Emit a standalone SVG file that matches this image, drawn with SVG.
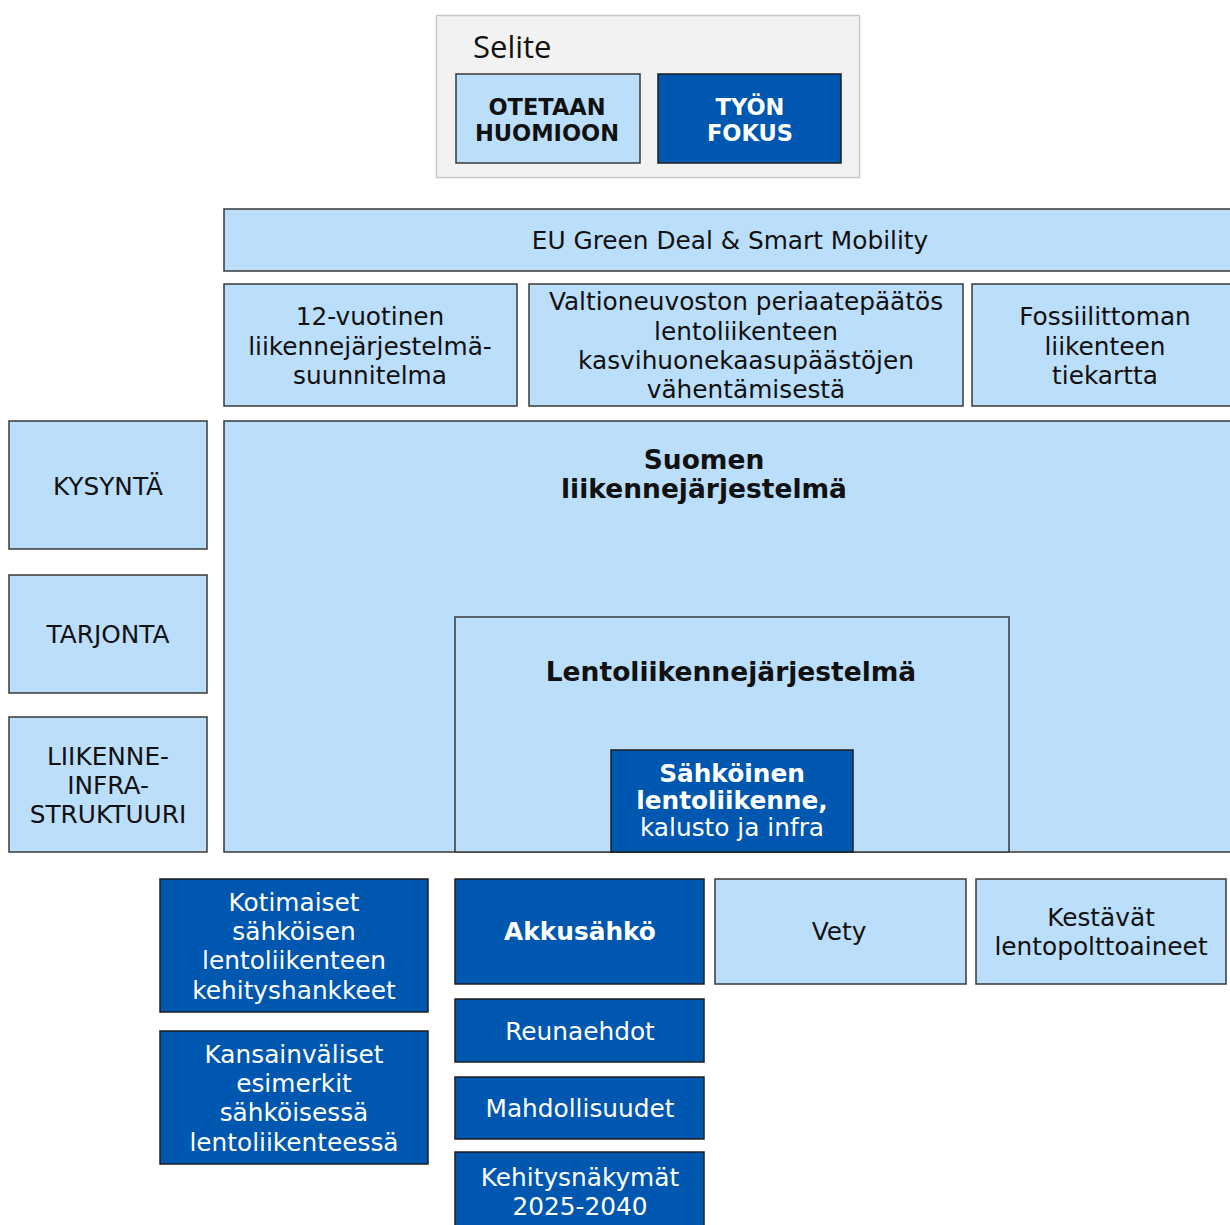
<svg xmlns="http://www.w3.org/2000/svg" width="1230" height="1225" viewBox="0 0 1230 1225">
  <style>
    .lt { fill: #bbdefb; stroke: #3a3a3a; stroke-width: 1.5; }
    .dk { fill: #0057b0; stroke: #1e1e1e; stroke-width: 1.5; }
    text { font-family: "DejaVu Sans", Verdana, sans-serif; font-size: 24.8px; text-anchor: middle; }
    .tb { fill: #111; }
    .tw { fill: #fff; }
    .b { font-weight: bold; }
    .big { font-size: 26.5px; }
    .leg { font-weight: bold; font-size: 22.5px; }
  </style>
  <rect width="1230" height="1225" fill="#ffffff"/>

  <!-- legend -->
  <g id="legend">
    <rect x="436.5" y="15.5" width="423" height="162" fill="#f2f2f2" stroke="#c8c8c8" stroke-width="1.5"/>
    <text x="473" y="58" style="font-family:'Open Sans','Noto Sans',sans-serif;font-size:31px;text-anchor:start" class="tb">Selite</text>
    <g id="legend-consider">
      <rect class="lt" x="456" y="74" width="184" height="89"/>
      <text class="tb leg" x="547" y="115">OTETAAN</text>
      <text class="tb leg" x="547" y="141">HUOMIOON</text>
    </g>
    <g id="legend-focus">
      <rect class="dk" x="658" y="74" width="183" height="89"/>
      <text class="tw leg" x="750" y="115">TYÖN</text>
      <text class="tw leg" x="750" y="141">FOKUS</text>
    </g>
  </g>

  <g id="eu-green-deal">
    <rect class="lt" x="224" y="209" width="1014" height="62"/>
    <text class="tb" x="730" y="249">EU Green Deal &amp; Smart Mobility</text>
  </g>

  <g id="suunnitelma">
    <rect class="lt" x="224" y="284" width="293" height="122"/>
    <text class="tb" x="370" y="325">12-vuotinen</text>
    <text class="tb" x="370" y="355">liikennejärjestelmä-</text>
    <text class="tb" x="370" y="384">suunnitelma</text>
  </g>

  <g id="periaatepaatos">
    <rect class="lt" x="529" y="284" width="434" height="122"/>
    <text class="tb" x="746" y="310">Valtioneuvoston periaatepäätös</text>
    <text class="tb" x="746" y="340">lentoliikenteen</text>
    <text class="tb" x="746" y="369">kasvihuonekaasupäästöjen</text>
    <text class="tb" x="746" y="398">vähentämisestä</text>
  </g>

  <g id="tiekartta">
    <rect class="lt" x="972" y="284" width="266" height="122"/>
    <text class="tb" x="1105" y="325">Fossiilittoman</text>
    <text class="tb" x="1105" y="355">liikenteen</text>
    <text class="tb" x="1105" y="384">tiekartta</text>
  </g>

  <g id="kysynta">
    <rect class="lt" x="9" y="421" width="198" height="128"/>
    <text class="tb" x="108" y="495">KYSYNTÄ</text>
  </g>

  <g id="tarjonta">
    <rect class="lt" x="9" y="575" width="198" height="118"/>
    <text class="tb" x="108" y="643">TARJONTA</text>
  </g>

  <g id="infrastruktuuri">
    <rect class="lt" x="9" y="717" width="198" height="135"/>
    <text class="tb" x="108" y="765">LIIKENNE-</text>
    <text class="tb" x="108" y="794">INFRA-</text>
    <text class="tb" x="108" y="823">STRUKTUURI</text>
  </g>

  <g id="liikennejarjestelma">
    <rect class="lt" x="224" y="421" width="1014" height="431"/>
    <text class="tb b big" x="704" y="469">Suomen</text>
    <text class="tb b big" x="704" y="498">liikennejärjestelmä</text>
  </g>

  <g id="lentoliikennejarjestelma">
    <rect class="lt" x="455" y="617" width="554" height="235"/>
    <text class="tb b big" x="731" y="681">Lentoliikennejärjestelmä</text>
  </g>

  <g id="sahkoinen-lentoliikenne">
    <rect class="dk" x="611" y="750" width="242" height="102"/>
    <text class="tw b" x="732" y="782">Sähköinen</text>
    <text class="tw b" x="732" y="809">lentoliikenne,</text>
    <text class="tw" x="732" y="836">kalusto ja infra</text>
  </g>

  <g id="kotimaiset">
    <rect class="dk" x="160" y="879" width="268" height="133"/>
    <text class="tw" x="294" y="911">Kotimaiset</text>
    <text class="tw" x="294" y="940">sähköisen</text>
    <text class="tw" x="294" y="969">lentoliikenteen</text>
    <text class="tw" x="294" y="999">kehityshankkeet</text>
  </g>

  <g id="kansainvaliset">
    <rect class="dk" x="160" y="1031" width="268" height="133"/>
    <text class="tw" x="294" y="1063">Kansainväliset</text>
    <text class="tw" x="294" y="1092">esimerkit</text>
    <text class="tw" x="294" y="1121">sähköisessä</text>
    <text class="tw" x="294" y="1151">lentoliikenteessä</text>
  </g>

  <g id="akkusahko">
    <rect class="dk" x="455" y="879" width="249" height="105"/>
    <text class="tw b" x="580" y="940">Akkusähkö</text>
  </g>

  <g id="vety">
    <rect class="lt" x="715" y="879" width="251" height="105"/>
    <text class="tb" x="839" y="940">Vety</text>
  </g>

  <g id="lentopolttoaineet">
    <rect class="lt" x="976" y="879" width="250" height="105"/>
    <text class="tb" x="1101" y="926">Kestävät</text>
    <text class="tb" x="1101" y="955">lentopolttoaineet</text>
  </g>

  <g id="reunaehdot">
    <rect class="dk" x="455" y="999" width="249" height="63"/>
    <text class="tw" x="580" y="1040">Reunaehdot</text>
  </g>

  <g id="mahdollisuudet">
    <rect class="dk" x="455" y="1077" width="249" height="62"/>
    <text class="tw" x="580" y="1117">Mahdollisuudet</text>
  </g>

  <g id="kehitysnakymat">
    <rect class="dk" x="455" y="1152" width="249" height="80"/>
    <text class="tw" x="580" y="1186">Kehitysnäkymät</text>
    <text class="tw" x="580" y="1215">2025-2040</text>
  </g>

  <g id="connectors"></g>
</svg>
